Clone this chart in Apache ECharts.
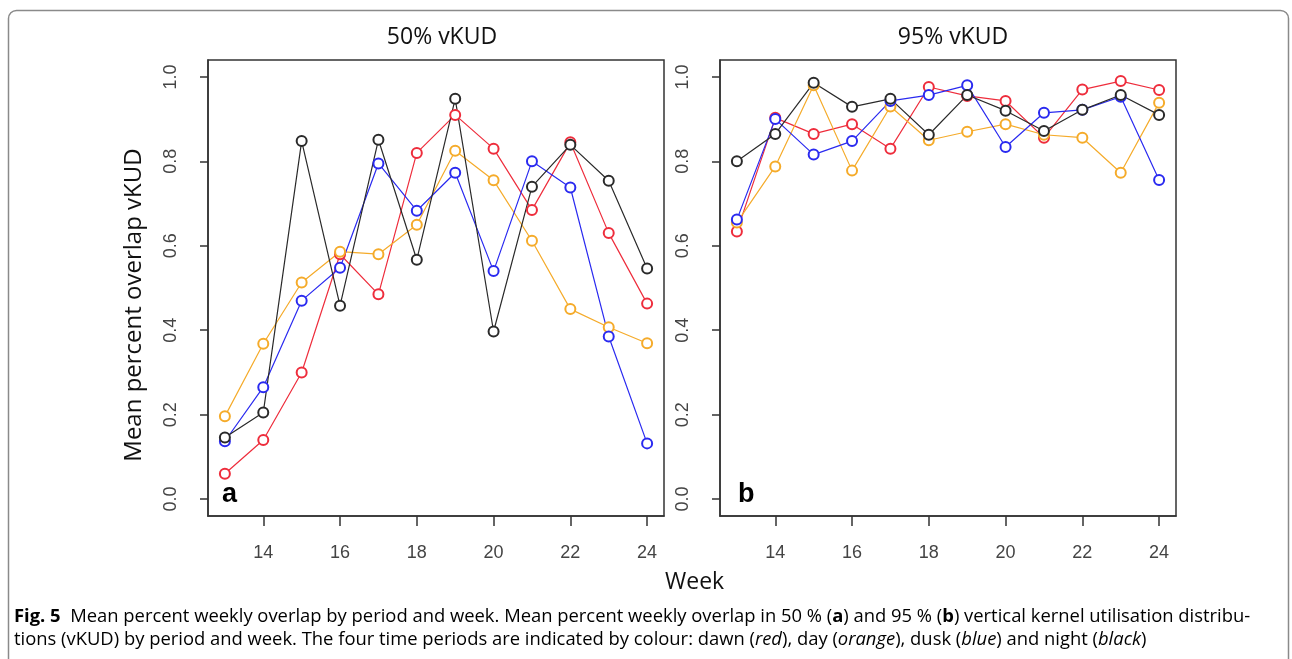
<!DOCTYPE html>
<html>
<head>
    <meta charset="utf-8">
    <title>Mean percent weekly overlap</title>
    <script src="https://cdn.jsdelivr.net/npm/echarts@6/dist/echarts.min.js"></script>
    <style>
        html, body { margin: 0; padding: 0; background: #fff; }
        #chart { width: 1292px; height: 659px; }
    </style>
</head>
<body>
    <div id="chart"></div>
    <script type="text/javascript">
        // weeks and tick labels
        var weeks = [13, 14, 15, 16, 17, 18, 19, 20, 21, 22, 23, 24];
        var weekTicks = [14, 16, 18, 20, 22, 24];
        var overlapTicks = [0, 0.2, 0.4, 0.6, 0.8, 1.0];

        // 50% vKUD (panel a)
        var a_dawn  = [0.06, 0.14, 0.30, 0.58, 0.485, 0.82, 0.91, 0.83, 0.685, 0.845, 0.63, 0.463];
        var a_day   = [0.196, 0.368, 0.513, 0.586, 0.58, 0.65, 0.825, 0.755, 0.612, 0.45, 0.407, 0.369];
        var a_dusk  = [0.137, 0.265, 0.47, 0.548, 0.795, 0.683, 0.773, 0.54, 0.80, 0.738, 0.385, 0.132];
        var a_night = [0.146, 0.205, 0.848, 0.458, 0.851, 0.567, 0.948, 0.397, 0.74, 0.839, 0.754, 0.546];

        // 95% vKUD (panel b)
        var b_dawn  = [0.634, 0.903, 0.865, 0.888, 0.83, 0.976, 0.955, 0.943, 0.856, 0.97, 0.99, 0.969];
        var b_day   = [0.655, 0.788, 0.98, 0.778, 0.93, 0.85, 0.87, 0.888, 0.863, 0.856, 0.773, 0.939];
        var b_dusk  = [0.662, 0.90, 0.816, 0.848, 0.943, 0.957, 0.98, 0.834, 0.915, 0.922, 0.953, 0.756];
        var b_night = [0.80, 0.865, 0.986, 0.929, 0.948, 0.863, 0.957, 0.92, 0.872, 0.922, 0.957, 0.91];

        var colors = { dawn: '#ee2d3c', day: '#f5ab2a', dusk: '#2a2af0', night: '#2a2a2a' };

        var pair = function (vals) {
            return weeks.map(function (w, i) { return [w, vals[i]]; });
        };

        var mkSeries = function (name, vals, idx, color) {
            return {
                name: name,
                type: 'line',
                xAxisIndex: idx,
                yAxisIndex: idx,
                data: pair(vals),
                symbol: 'emptyCircle',
                symbolSize: 10,
                showAllSymbol: true,
                lineStyle: { color: color, width: 1.2 },
                itemStyle: { color: color, borderColor: color, borderWidth: 1 },
                animation: false,
                z: 3
            };
        };

        var tickFont = { fontFamily: 'Liberation Sans', fontSize: 18, color: '#444' };

        var mkX = function (idx) {
            return {
                type: 'value',
                gridIndex: idx,
                min: 12.56,
                max: 24.44,
                axisLine: { show: true, onZero: false, lineStyle: { color: '#333', width: 1.5 } },
                axisTick: { show: true, length: 10, customValues: weekTicks, lineStyle: { color: '#333', width: 1.5 } },
                axisLabel: Object.assign({ customValues: weekTicks, margin: 28 }, tickFont),
                splitLine: { show: false }
            };
        };

        var mkY = function (idx) {
            return {
                type: 'value',
                gridIndex: idx,
                min: -0.04,
                max: 1.04,
                axisLine: { show: true, onZero: false, lineStyle: { color: '#333', width: 1.5 } },
                axisTick: { show: true, length: 8, customValues: overlapTicks, lineStyle: { color: '#333', width: 1.5 } },
                axisLabel: Object.assign({
                    customValues: overlapTicks, rotate: 90, margin: 28,
                    formatter: function (v) { return v.toFixed(1); }
                }, tickFont),
                splitLine: { show: false }
            };
        };

        var capSize = 18.4;
        var captionRich = {
            b: { fontFamily: 'Open Sans', fontWeight: 'bold', fontSize: capSize, color: '#222' },
            n: { fontFamily: 'Open Sans', fontSize: capSize, color: '#222' },
            i: { fontFamily: 'Open Sans', fontStyle: 'italic', fontSize: capSize, color: '#222' }
        };

        var myChart = echarts.init(document.getElementById('chart'));

        var option = {
            backgroundColor: '#fff',
            animation: false,
            title: [
                { text: '50% vKUD', left: 437, top: 21, textAlign: 'center',
                  textStyle: { fontFamily: 'Open Sans', fontWeight: 'normal', fontSize: 23, color: '#111' } },
                { text: '95% vKUD', left: 948, top: 21, textAlign: 'center',
                  textStyle: { fontFamily: 'Open Sans', fontWeight: 'normal', fontSize: 23, color: '#111' } }
            ],
            grid: [
                { left: 208, top: 60, width: 456, height: 456, show: true, borderColor: '#333', borderWidth: 1.5, backgroundColor: 'transparent' },
                { left: 720, top: 60, width: 456, height: 456, show: true, borderColor: '#333', borderWidth: 1.5, backgroundColor: 'transparent' }
            ],
            xAxis: [mkX(0), mkX(1)],
            yAxis: [mkY(0), mkY(1)],
            series: [
                mkSeries('dawn', a_dawn, 0, colors.dawn),
                mkSeries('day', a_day, 0, colors.day),
                mkSeries('dusk', a_dusk, 0, colors.dusk),
                mkSeries('night', a_night, 0, colors.night),
                mkSeries('dawn', b_dawn, 1, colors.dawn),
                mkSeries('day', b_day, 1, colors.day),
                mkSeries('dusk', b_dusk, 1, colors.dusk),
                mkSeries('night', b_night, 1, colors.night)
            ],
            graphic: [
                {
                    type: 'rect', silent: true, z: -1,
                    shape: { x: 8.5, y: 10.5, width: 1280, height: 720, r: 8 },
                    style: { fill: 'none', stroke: '#8a8a8a', lineWidth: 1.5 }
                },
                {
                    type: 'text', x: 134, y: 305, rotation: Math.PI / 2,
                    style: { text: 'Mean percent overlap vKUD', fontFamily: 'Open Sans', fontSize: 24, fill: '#111',
                             align: 'center', verticalAlign: 'middle' }
                },
                {
                    type: 'text', left: 222, top: 481,
                    style: { text: 'a', fontFamily: 'Liberation Sans', fontWeight: 'bold', fontSize: 27, fill: '#000' }
                },
                {
                    type: 'text', left: 738, top: 481,
                    style: { text: 'b', fontFamily: 'Liberation Sans', fontWeight: 'bold', fontSize: 27, fill: '#000' }
                },
                {
                    type: 'text', left: 665, top: 571,
                    style: { text: 'Week', fontFamily: 'Open Sans', fontSize: 23, fill: '#111' }
                },
                {
                    type: 'text', left: 14, top: 605,
                    style: {
                        text: '{b|Fig. 5}{n|  Mean percent weekly overlap by period and week. Mean percent weekly overlap in 50 % (}{b|a}{n|) and 95 % (}{b|b}{n|) vertical kernel utilisation distribu-}\n' +
                              '{n|tions (vKUD) by period and week. The four time periods are indicated by colour: dawn (}{i|red}{n|), day (}{i|orange}{n|), dusk (}{i|blue}{n|) and night (}{i|black}{n|)}',
                        rich: captionRich,
                        lineHeight: 23
                    }
                }
            ]
        };

        myChart.setOption(option);
    </script>
</body>
</html>
